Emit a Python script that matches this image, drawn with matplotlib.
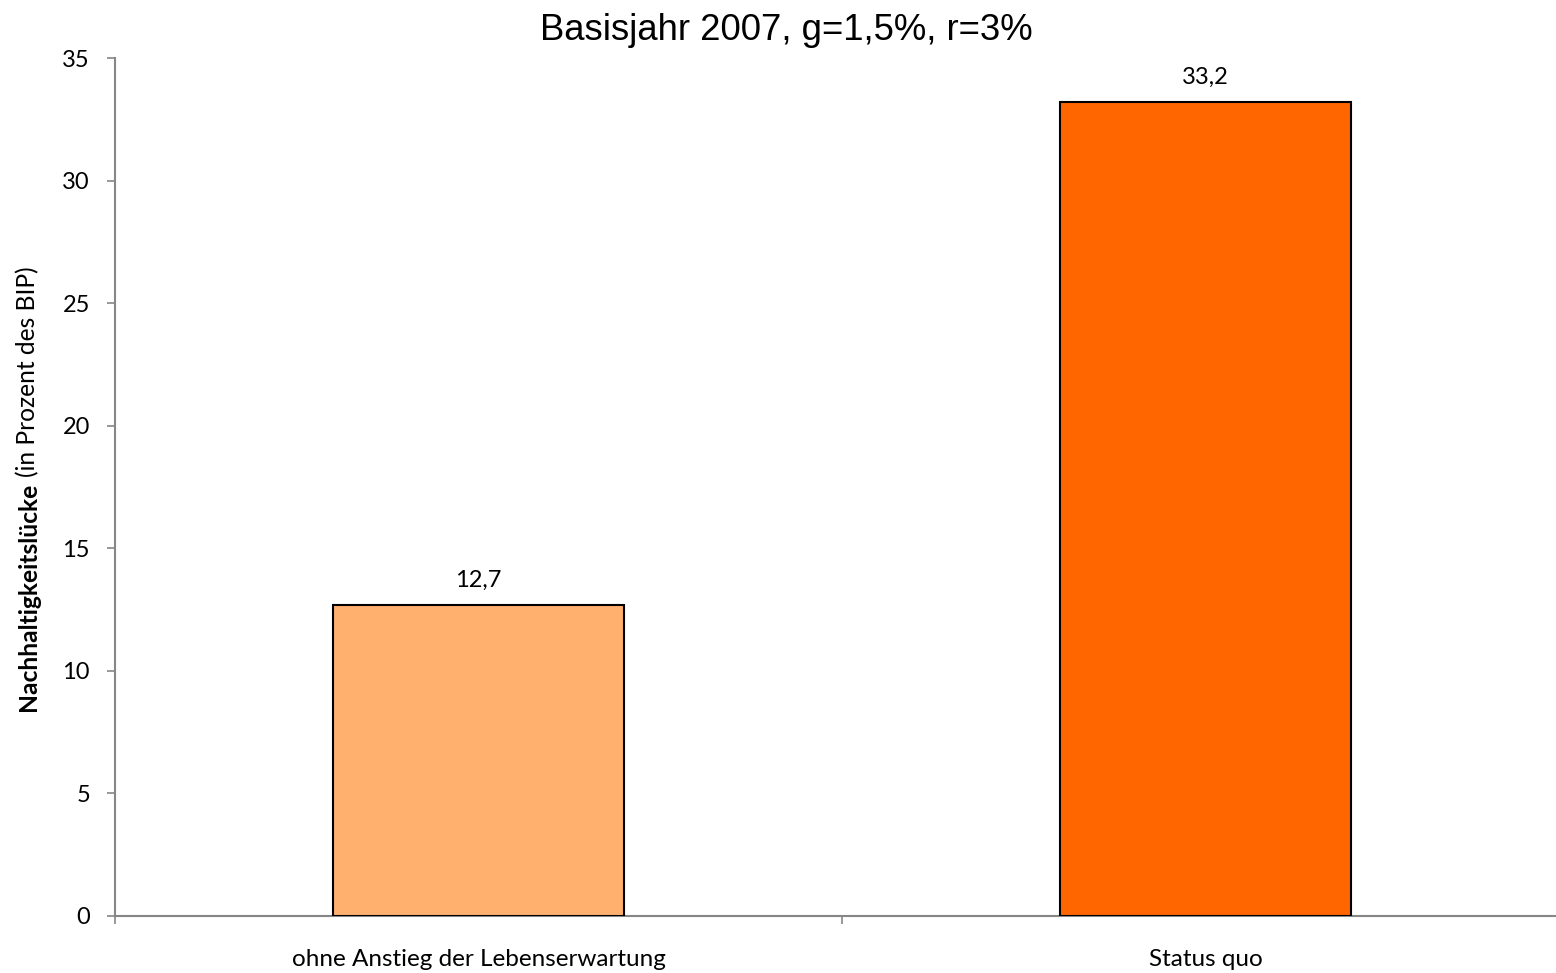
import matplotlib.pyplot as plt
from matplotlib.ticker import FixedLocator, NullFormatter

kategorien = ['ohne Anstieg der Lebenserwartung', 'Status quo']
werte = [12.7, 33.2]
farben = ['#FFB06E', '#FF6600']
y_ticks = [0, 5, 10, 15, 20, 25, 30, 35]

plt.rcParams['font.family'] = ['Lato', 'DejaVu Sans']

fig = plt.figure(figsize=(15.56, 9.73), dpi=100)
ax = fig.add_axes([115 / 1556, 1 - 916 / 973, 1454 / 1556, 858 / 973])

x = list(range(len(kategorien)))
ax.bar(x, werte, width=0.4, color=farben, edgecolor='black', linewidth=1.5, zorder=3)

# Wertebeschriftung über den Balken
for xi, v in zip(x, werte):
    ax.annotate(f'{v:.1f}'.replace('.', ','), (xi, v), xytext=(0, 10), textcoords='offset points',
                ha='center', va='bottom', fontsize=17)

ax.set_xlim(-0.5, len(kategorien) - 0.5)
ax.set_ylim(0, 35)
ax.set_yticks(y_ticks)
ax.set_xticks(x)
ax.set_xticklabels(kategorien, fontsize=17.5)
ax.tick_params(axis='x', which='major', length=0, pad=24)
ax.xaxis.set_minor_locator(FixedLocator([-0.5 + i for i in range(len(kategorien) + 1)]))
ax.xaxis.set_minor_formatter(NullFormatter())
ax.tick_params(axis='x', which='minor', length=6, color='#868686', width=1.2)
ax.tick_params(axis='y', length=6, color='#868686', width=1.2, labelsize=17, pad=12)

for s in ['top', 'right']:
    ax.spines[s].set_visible(False)
for s in ['left', 'bottom']:
    ax.spines[s].set_color('#868686')
    ax.spines[s].set_linewidth(1.5)

fig.text(786 / 1556, 1 - 31 / 973, 'Basisjahr 2007, g=1,5%, r=3%', ha='center', va='center',
         fontsize=26.3, family='Liberation Sans')

# Achsentitel: fetter und normaler Teil
t1 = fig.text(28 / 1556, 1 - 711 / 973, 'Nachhaltigkeitslücke', rotation=90, rotation_mode='anchor',
              ha='left', va='center', fontsize=17.7, fontweight='bold')
fig.canvas.draw()
bb = t1.get_window_extent()
fig.text(28 / 1556, (bb.y1 + 6) / fig.bbox.height, '(in Prozent des BIP)', rotation=90,
         rotation_mode='anchor', ha='left', va='center', fontsize=17.7)

fig.savefig('out.png', dpi=100)
